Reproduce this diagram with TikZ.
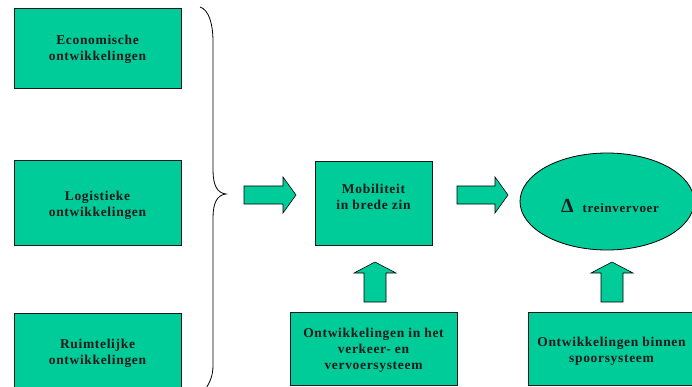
\documentclass[tikz,border=0pt]{standalone}
\usepackage{fontspec}
\setmainfont{Liberation Serif}
\newfontfamily\spacedfont{Liberation Serif}[LetterSpace=5]
\usetikzlibrary{shapes.geometric}
\definecolor{teal}{HTML}{00CC99}
\definecolor{ink}{HTML}{1A1A1A}
\begin{document}
\begin{tikzpicture}[x=1pt,y=-1pt,
  boxtext/.style={font=\spacedfont\bfseries\fontsize{13.5}{16}\selectfont, text=ink, align=center},
  panel/.style={draw=ink, line width=0.8pt, fill=teal, inner sep=0pt, boxtext},
  blockarrow/.style={draw=black, line width=0.6pt, fill=teal, line join=miter},
  rarrow/.pic={\draw[blockarrow] (0,-9) -- (#1,-9) -- (#1,-18) -- (#1+13,0) -- (#1,18) -- (#1,9) -- (0,9) -- cycle;},
  uarrow/.pic={\draw[blockarrow] (-11,0) -- (-11,-29) -- (-21,-29) -- (0,-40) -- (21,-29) -- (11,-29) -- (11,0) -- cycle;}
]
\useasboundingbox (0,0) rectangle (692,387);

% driving factors on the left
\node[panel, minimum width=167, minimum height=80] (econ) at (97.5,48)
  {\\[-4pt]Economische\\ontwikkelingen};
\node[panel, minimum width=167, minimum height=85] (logi) at (97.5,202.5)
  {\\[-2pt]Logistieke\\ontwikkelingen};
\node[panel, minimum width=167, minimum height=80] (ruim) at (97.5,353)
  {Ruimtelijke\\ontwikkelingen};

% brace grouping the three factors
\draw[line width=0.8pt, black] (200,7) .. controls (209,10) and (213,24) .. (213,42)
  -- (213,170) .. controls (213,185) and (217,193) .. (226,194)
  .. controls (217,195) and (213,203) .. (213,218)
  -- (213,365) .. controls (213,376) and (210,382) .. (205,390);

% mobility
\node[panel, minimum width=117, minimum height=84] (mob) at (373.5,203) {};
\node[boxtext] (mobtext) at ([yshift=6pt]mob.center) {Mobiliteit\\in brede zin};

% rail transport
\node[ellipse, draw=black, line width=0.8pt, fill=teal, minimum width=174, minimum height=97, inner sep=0pt] (rail) at (607,201.5) {};
\node[boxtext, anchor=base, font=\spacedfont\bfseries\fontsize{13}{16}\selectfont] (railtext) at (610,212)
  {{\fontsize{20}{20}\selectfont Δ}\hspace{9pt}treinvervoer};

% bottom factors
\node[panel, minimum width=167, minimum height=73] (verk) at (373.5,348.5)
  {\\[-4pt]Ontwikkelingen in het\\verkeer- en\hspace*{50pt}\\vervoersysteem};
\node[panel, minimum width=167, minimum height=73] (spoor) at (611.5,348.5)
  {\\[-2pt]Ontwikkelingen binnen\\spoorsysteem};

% block arrows
\pic at (244,195) {rarrow=39};
\pic at (457,195) {rarrow=38};
\pic at (375,302) {uarrow};
\pic at (612,302) {uarrow};
\end{tikzpicture}
\end{document}
